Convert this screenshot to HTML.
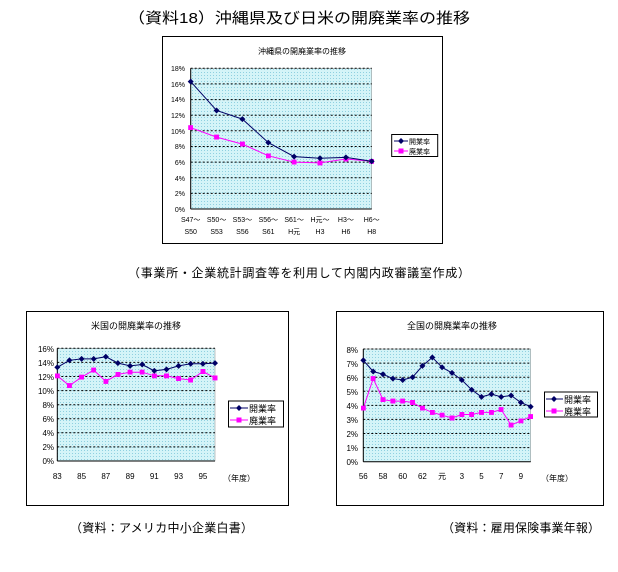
<!DOCTYPE html>
<html><head><meta charset="utf-8"><style>
html,body{margin:0;padding:0;background:#fff;}
svg{display:block;font-family:"Liberation Sans","Noto Sans CJK JP",sans-serif;}
</style></head><body>
<svg width="618" height="572" viewBox="0 0 618 572" xmlns="http://www.w3.org/2000/svg">
<defs>
<pattern id="dots" width="3" height="3" patternUnits="userSpaceOnUse">
<rect width="3" height="3" fill="#d4f4f8"/><rect width="1" height="1" fill="#8fd0e0"/>
</pattern>
<marker id="dia" markerWidth="6" markerHeight="6" refX="3" refY="3" markerUnits="userSpaceOnUse"><path d="M3,0 L6,3 L3,6 L0,3Z" fill="#000066"/></marker>
<marker id="sq" markerWidth="5" markerHeight="5" refX="2.5" refY="2.5" markerUnits="userSpaceOnUse"><rect width="5" height="5" fill="#ff00ff"/></marker>
</defs>
<text x="128" y="23" font-size="15" textLength="342" lengthAdjust="spacingAndGlyphs">（資料18）沖縄県及び日米の開廃業率の推移</text>
<text x="128" y="277" font-size="12" textLength="342" lengthAdjust="spacing">（事業所・企業統計調査等を利用して内閣内政審議室作成）</text>
<text x="70" y="532" font-size="12" textLength="183" lengthAdjust="spacing">（資料：アメリカ中小企業白書）</text>
<text x="442" y="532" font-size="12" textLength="158" lengthAdjust="spacing">（資料：雇用保険事業年報）</text>

<!-- Top chart -->
<rect x="162.5" y="36.5" width="280" height="207" fill="#fff" stroke="#000"/>
<text x="302" y="54" font-size="8" text-anchor="middle">沖縄県の開廃業率の推移</text>
<rect x="190.7" y="68.3" width="181" height="140.7" fill="url(#dots)" stroke="#888" stroke-width="0.5"/>
<g stroke="#000" stroke-dasharray="2,2" stroke-width="1">
<line x1="190.7" x2="371.7" y1="68.3" y2="68.3"/><line x1="190.7" x2="371.7" y1="83.9" y2="83.9"/><line x1="190.7" x2="371.7" y1="99.6" y2="99.6"/><line x1="190.7" x2="371.7" y1="115.2" y2="115.2"/><line x1="190.7" x2="371.7" y1="130.8" y2="130.8"/><line x1="190.7" x2="371.7" y1="146.5" y2="146.5"/><line x1="190.7" x2="371.7" y1="162.1" y2="162.1"/><line x1="190.7" x2="371.7" y1="177.7" y2="177.7"/><line x1="190.7" x2="371.7" y1="193.4" y2="193.4"/>
</g>
<line x1="190.7" x2="190.7" y1="68.3" y2="209" stroke="#000"/>
<line x1="190.7" x2="371.7" y1="209" y2="209" stroke="#000"/>
<g font-size="7" text-anchor="end">
<text x="185" y="71">18%</text><text x="185" y="87">16%</text><text x="185" y="102">14%</text><text x="185" y="118">12%</text><text x="185" y="134">10%</text><text x="185" y="149">8%</text><text x="185" y="165">6%</text><text x="185" y="181">4%</text><text x="185" y="196">2%</text><text x="185" y="212">0%</text>
</g>
<g font-size="7" text-anchor="middle">
<text x="190.7" y="222">S47～</text><text x="216.6" y="222">S50～</text><text x="242.4" y="222">S53～</text><text x="268.3" y="222">S56～</text><text x="294.1" y="222">S61～</text><text x="320" y="222">H元～</text><text x="345.9" y="222">H3～</text><text x="371.7" y="222">H6～</text>
<text x="190.7" y="234">S50</text><text x="216.6" y="234">S53</text><text x="242.4" y="234">S56</text><text x="268.3" y="234">S61</text><text x="294.1" y="234">H元</text><text x="320" y="234">H3</text><text x="345.9" y="234">H6</text><text x="371.7" y="234">H8</text>
</g>
<polyline fill="none" stroke="#ff00ff" stroke-width="1" marker-start="url(#sq)" marker-mid="url(#sq)" marker-end="url(#sq)" points="190.7,127.7 216.6,137.1 242.4,144.1 268.3,155.8 294.1,162.1 320,162.9 345.9,159 371.7,161.3"/>
<polyline fill="none" stroke="#000066" stroke-width="1" marker-start="url(#dia)" marker-mid="url(#dia)" marker-end="url(#dia)" points="190.7,81.6 216.6,110.5 242.4,119.1 268.3,142.6 294.1,156.6 320,158.2 345.9,157.4 371.7,161.3"/>
<rect x="391.7" y="134.5" width="46" height="22" fill="#fff" stroke="#000"/>
<line x1="394" x2="408" y1="141" y2="141" stroke="#000066"/><path d="M398,141 L401,138 L404,141 L401,144Z" fill="#000066"/>
<line x1="394" x2="408" y1="151" y2="151" stroke="#ff00ff"/><rect x="398.5" y="148.5" width="5" height="5" fill="#ff00ff"/>
<text x="409" y="144" font-size="7">開業率</text><text x="409" y="154" font-size="7">廃業率</text>

<!-- Bottom-left chart -->
<rect x="26.5" y="311.5" width="262" height="194" fill="#fff" stroke="#000"/>
<text x="136" y="329" font-size="9" text-anchor="middle">米国の開廃業率の推移</text>
<rect x="57.3" y="348.3" width="157.7" height="112.7" fill="url(#dots)" stroke="#888" stroke-width="0.5"/>
<g stroke="#000" stroke-dasharray="2,2">
<line x1="57.3" x2="215" y1="348.3" y2="348.3"/><line x1="57.3" x2="215" y1="362.4" y2="362.4"/><line x1="57.3" x2="215" y1="376.5" y2="376.5"/><line x1="57.3" x2="215" y1="390.6" y2="390.6"/><line x1="57.3" x2="215" y1="404.7" y2="404.7"/><line x1="57.3" x2="215" y1="418.7" y2="418.7"/><line x1="57.3" x2="215" y1="432.8" y2="432.8"/><line x1="57.3" x2="215" y1="446.9" y2="446.9"/>
</g>
<line x1="57.3" x2="57.3" y1="348.3" y2="461" stroke="#000"/><line x1="57.3" x2="215" y1="461" y2="461" stroke="#000"/>
<g font-size="8" text-anchor="end">
<text x="54" y="352">16%</text><text x="54" y="366">14%</text><text x="54" y="380">12%</text><text x="54" y="394">10%</text><text x="54" y="408">8%</text><text x="54" y="422">6%</text><text x="54" y="436">4%</text><text x="54" y="450">2%</text><text x="54" y="464">0%</text>
</g>
<g font-size="8" text-anchor="middle">
<text x="57.3" y="479">83</text><text x="81.6" y="479">85</text><text x="105.8" y="479">87</text><text x="130.1" y="479">89</text><text x="154.3" y="479">91</text><text x="178.6" y="479">93</text><text x="202.9" y="479">95</text><text x="239" y="481">（年度）</text>
</g>
<polyline fill="none" stroke="#ff00ff" marker-start="url(#sq)" marker-mid="url(#sq)" marker-end="url(#sq)" points="57.3,375.8 69.4,385.6 81.6,377.2 93.7,370.1 105.8,381.4 117.9,374.4 130.1,372.2 142.2,372.2 154.3,375.8 166.5,375.8 178.6,378.6 190.7,380 202.9,371.5 215,377.9"/>
<polyline fill="none" stroke="#000066" marker-start="url(#dia)" marker-mid="url(#dia)" marker-end="url(#dia)" points="57.3,367.3 69.4,360.3 81.6,358.9 93.7,358.9 105.8,356.7 117.9,363.1 130.1,365.9 142.2,364.5 154.3,370.8 166.5,369.4 178.6,365.9 190.7,363.8 202.9,363.8 215,363.1"/>
<rect x="228.5" y="401" width="55" height="26" fill="#fff" stroke="#000"/>
<line x1="230" x2="248" y1="408" y2="408" stroke="#000066"/><path d="M239,405 L242,408 L239,411 L236,408Z" fill="#000066"/>
<line x1="230" x2="248" y1="420" y2="420" stroke="#ff00ff"/><rect x="236.5" y="417.5" width="5" height="5" fill="#ff00ff"/>
<text x="249" y="412" font-size="9">開業率</text><text x="249" y="424" font-size="9">廃業率</text>

<!-- Bottom-right chart -->
<rect x="336.5" y="311.5" width="267" height="194" fill="#fff" stroke="#000"/>
<text x="452" y="329" font-size="9" text-anchor="middle">全国の開廃業率の推移</text>
<rect x="363.3" y="349" width="167.4" height="112.7" fill="url(#dots)" stroke="#888" stroke-width="0.5"/>
<g stroke="#000" stroke-dasharray="2,2">
<line x1="363.3" x2="530.7" y1="349" y2="349"/><line x1="363.3" x2="530.7" y1="363.1" y2="363.1"/><line x1="363.3" x2="530.7" y1="377.2" y2="377.2"/><line x1="363.3" x2="530.7" y1="391.3" y2="391.3"/><line x1="363.3" x2="530.7" y1="405.4" y2="405.4"/><line x1="363.3" x2="530.7" y1="419.4" y2="419.4"/><line x1="363.3" x2="530.7" y1="433.5" y2="433.5"/><line x1="363.3" x2="530.7" y1="447.6" y2="447.6"/>
</g>
<line x1="363.3" x2="363.3" y1="349" y2="461.7" stroke="#000"/><line x1="363.3" x2="530.7" y1="461.7" y2="461.7" stroke="#000"/>
<g font-size="8" text-anchor="end">
<text x="358" y="353">8%</text><text x="358" y="367">7%</text><text x="358" y="381">6%</text><text x="358" y="395">5%</text><text x="358" y="409">4%</text><text x="358" y="423">3%</text><text x="358" y="437">2%</text><text x="358" y="451">1%</text><text x="358" y="465">0%</text>
</g>
<g font-size="8" text-anchor="middle">
<text x="363.3" y="479">56</text><text x="383" y="479">58</text><text x="402.7" y="479">60</text><text x="422.4" y="479">62</text><text x="442.1" y="479">元</text><text x="461.8" y="479">3</text><text x="481.5" y="479">5</text><text x="501.2" y="479">7</text><text x="520.9" y="479">9</text><text x="557" y="481">（年度）</text>
</g>
<polyline fill="none" stroke="#ff00ff" marker-start="url(#sq)" marker-mid="url(#sq)" marker-end="url(#sq)" points="363.3,408.2 373.2,378.6 383,399.7 392.9,401.1 402.7,401.1 412.6,402.5 422.4,408.2 432.3,412.4 442.1,415.2 452,418 461.8,414.5 471.7,414.5 481.5,412.4 491.4,412.4 501.2,409.6 511.1,425.1 520.9,420.8 530.7,416.6"/>
<polyline fill="none" stroke="#000066" marker-start="url(#dia)" marker-mid="url(#dia)" marker-end="url(#dia)" points="363.3,360.3 373.2,371.5 383,374.3 392.9,378.6 402.7,380 412.6,377.2 422.4,365.9 432.3,357.4 442.1,367.3 452,372.9 461.8,380 471.7,389.8 481.5,396.9 491.4,394.1 501.2,396.9 511.1,395.5 520.9,402.5 530.7,406.7"/>
<rect x="544.5" y="392" width="53" height="25" fill="#fff" stroke="#000"/>
<line x1="546" x2="563" y1="399" y2="399" stroke="#000066"/><path d="M554,396 L557,399 L554,402 L551,399Z" fill="#000066"/>
<line x1="546" x2="563" y1="411" y2="411" stroke="#ff00ff"/><rect x="551.5" y="408.5" width="5" height="5" fill="#ff00ff"/>
<text x="564" y="403" font-size="9">開業率</text><text x="564" y="415" font-size="9">廃業率</text>
</svg>
</body></html>
